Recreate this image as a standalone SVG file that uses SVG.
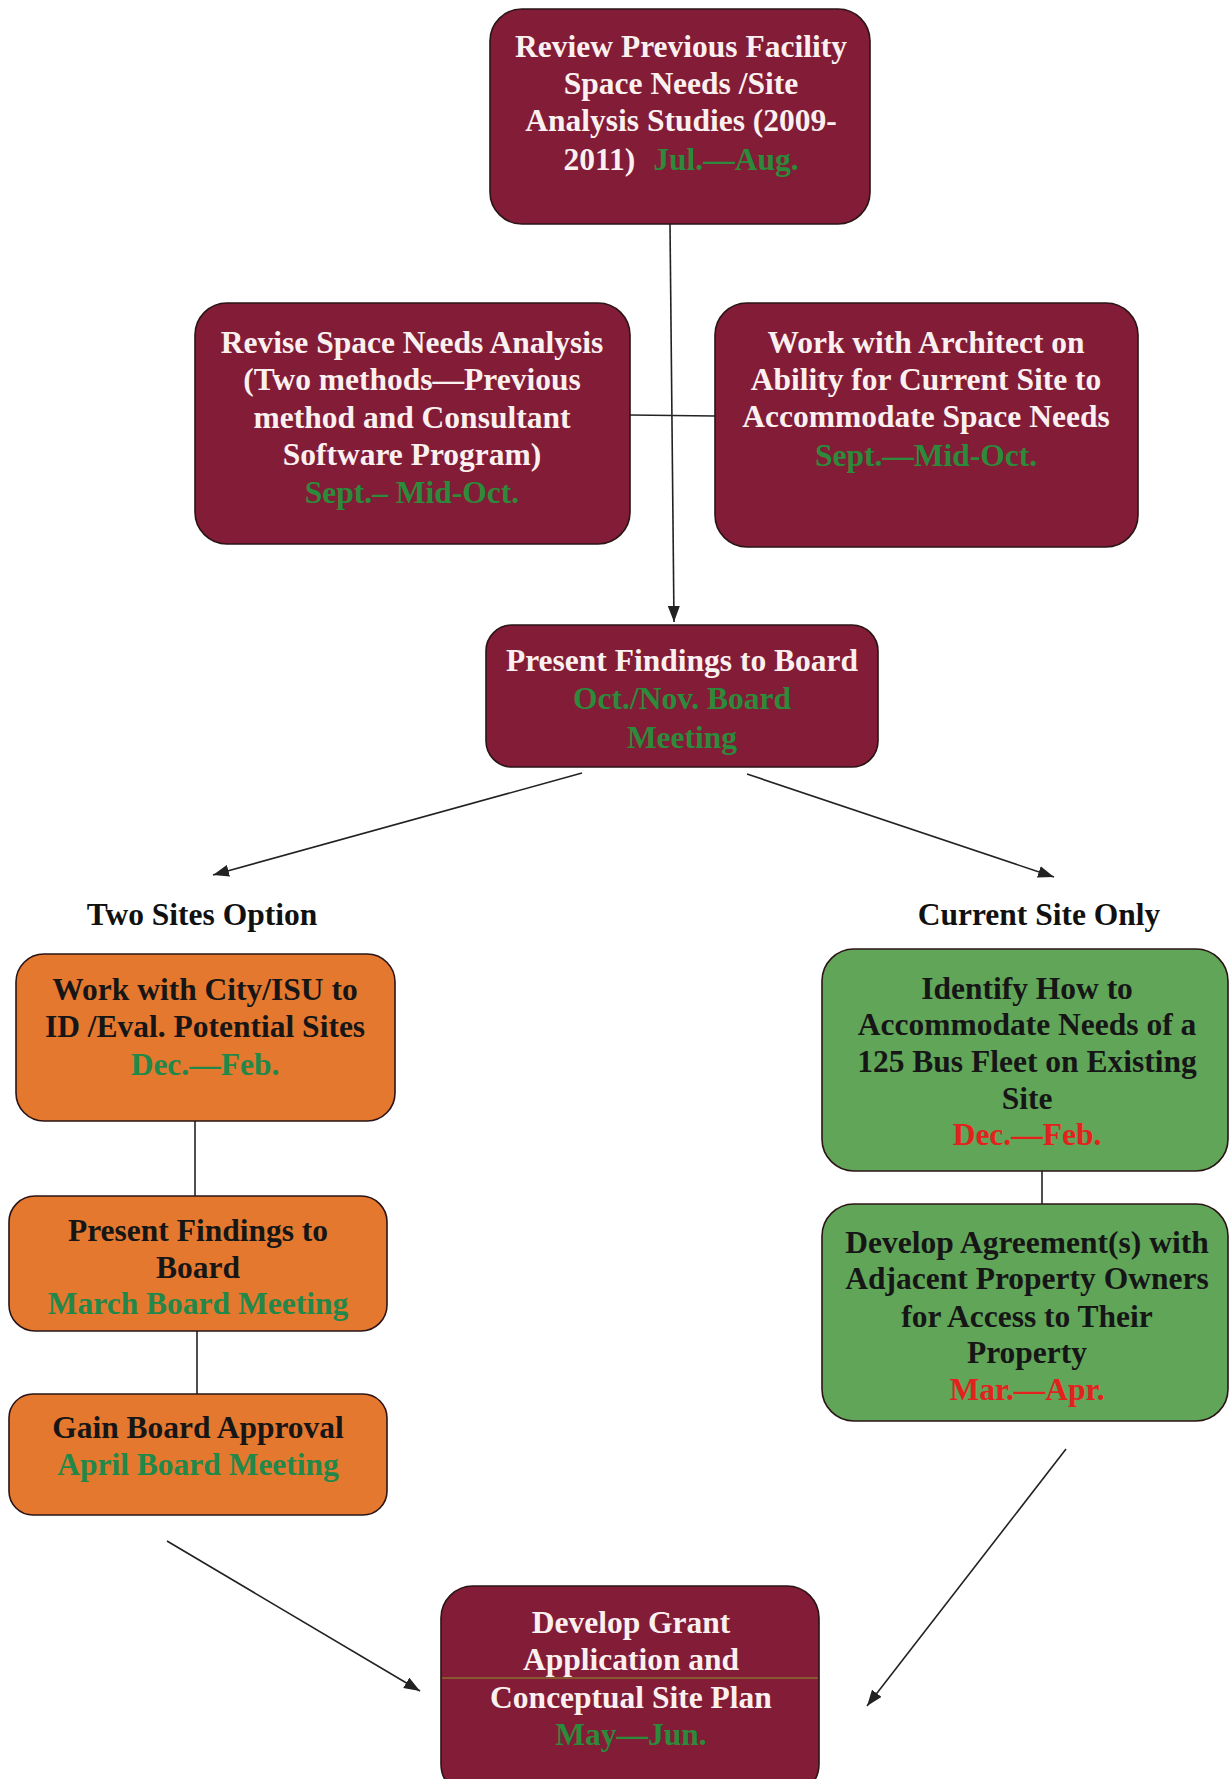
<svg xmlns="http://www.w3.org/2000/svg" width="1229" height="1779" viewBox="0 0 1229 1779">
<style>
text{font-family:"Liberation Serif","Times New Roman",serif;font-weight:bold;font-size:31.5px;text-anchor:middle}
.m{fill:#821c37;stroke:#2a1416;stroke-width:1.6}
.o{fill:#e5782f;stroke:#2a1416;stroke-width:1.6}
.g{fill:#61a559;stroke:#2a1416;stroke-width:1.6}
.wt{fill:#fbf0f0}
.bt{fill:#161616}
.gn{fill:#2c8a3a}
.gt{fill:#22884a}
.rd{fill:#e3221e}
.c{stroke:#222;stroke-width:1.6;fill:none}
.lbl{fill:#111;font-size:31.5px}
</style>
<defs>
<marker id="ah2" viewBox="0 0 16 12" refX="16" refY="6" markerWidth="16" markerHeight="12" markerUnits="userSpaceOnUse" orient="auto">
<path d="M0,0 L16,6 L0,12 z" fill="#222"/>
</marker>
</defs>
<g id="connectors">
<line class="c" x1="670" y1="224" x2="674" y2="622" marker-end="url(#ah2)"/>
<line class="c" x1="630" y1="415" x2="715" y2="416"/>
<line class="c" x1="582" y1="773" x2="213" y2="875" marker-end="url(#ah2)"/>
<line class="c" x1="747" y1="774" x2="1054" y2="877" marker-end="url(#ah2)"/>
<line class="c" x1="195" y1="1121" x2="195" y2="1196"/>
<line class="c" x1="197" y1="1331" x2="197" y2="1394"/>
<line class="c" x1="1042" y1="1171" x2="1042" y2="1204"/>
<line class="c" x1="167" y1="1541" x2="420" y2="1691" marker-end="url(#ah2)"/>
<line class="c" x1="1066" y1="1449" x2="867" y2="1706" marker-end="url(#ah2)"/>
</g>
<g id="n-review">
<rect class="m" x="490" y="9" width="380" height="215" rx="32"/>
<text class="wt" x="681" y="57">Review Previous Facility</text>
<text class="wt" x="681" y="94">Space Needs /Site</text>
<text class="wt" x="681" y="131">Analysis Studies (2009-</text>
<text class="wt" x="681" y="170">2011)<tspan class="gn" dx="18">Jul.—Aug.</tspan></text>
</g>
<g id="n-revise">
<rect class="m" x="195" y="303" width="435" height="241" rx="32"/>
<text class="wt" x="412" y="353">Revise Space Needs Analysis</text>
<text class="wt" x="412" y="390">(Two methods—Previous</text>
<text class="wt" x="412" y="428">method and Consultant</text>
<text class="wt" x="412" y="465">Software Program)</text>
<text class="gn" x="412" y="503">Sept.– Mid-Oct.</text>
</g>
<g id="n-architect">
<rect class="m" x="715" y="303" width="423" height="244" rx="32"/>
<text class="wt" x="926" y="353">Work with Architect on</text>
<text class="wt" x="926" y="390">Ability for Current Site to</text>
<text class="wt" x="926" y="427">Accommodate Space Needs</text>
<text class="gn" x="926" y="466">Sept.—Mid-Oct.</text>
</g>
<g id="n-present">
<rect class="m" x="486" y="625" width="392" height="142" rx="26"/>
<text class="wt" x="682" y="671">Present Findings to Board</text>
<text class="gn" x="682" y="709">Oct./Nov. Board</text>
<text class="gn" x="682" y="748">Meeting</text>
</g>
<g id="lbl-two">
<text class="lbl" x="202" y="925">Two Sites Option</text>
</g>
<g id="lbl-current">
<text class="lbl" x="1039" y="925">Current Site Only</text>
</g>
<g id="n-city">
<rect class="o" x="16" y="954" width="379" height="167" rx="28"/>
<text class="bt" x="205" y="1000">Work with City/ISU to</text>
<text class="bt" x="205" y="1037">ID /Eval. Potential Sites</text>
<text class="gt" x="205" y="1075">Dec.—Feb.</text>
</g>
<g id="n-present2">
<rect class="o" x="9" y="1196" width="378" height="135" rx="26"/>
<text class="bt" x="198" y="1241">Present Findings to</text>
<text class="bt" x="198" y="1278">Board</text>
<text class="gt" x="198" y="1314">March Board Meeting</text>
</g>
<g id="n-approval">
<rect class="o" x="9" y="1394" width="378" height="121" rx="24"/>
<text class="bt" x="198" y="1438">Gain Board Approval</text>
<text class="gt" x="198" y="1475">April Board Meeting</text>
</g>
<g id="n-identify">
<rect class="g" x="822" y="949" width="406" height="222" rx="32"/>
<text class="bt" x="1027" y="999">Identify How to</text>
<text class="bt" x="1027" y="1035">Accommodate Needs of a</text>
<text class="bt" x="1027" y="1072">125 Bus Fleet on Existing</text>
<text class="bt" x="1027" y="1109">Site</text>
<text class="rd" x="1027" y="1145">Dec.—Feb.</text>
</g>
<g id="n-agreement">
<rect class="g" x="822" y="1204" width="406" height="217" rx="32"/>
<text class="bt" x="1027" y="1253">Develop Agreement(s) with</text>
<text class="bt" x="1027" y="1289">Adjacent Property Owners</text>
<text class="bt" x="1027" y="1327">for Access to Their</text>
<text class="bt" x="1027" y="1363">Property</text>
<text class="rd" x="1027" y="1400">Mar.—Apr.</text>
</g>
<g id="n-grant">
<rect class="m" x="441" y="1586" width="378" height="210" rx="32"/>
<line x1="442" y1="1678" x2="818" y2="1678" stroke="#8a6a2e" stroke-width="1.5"/>
<text class="wt" x="631" y="1633">Develop Grant</text>
<text class="wt" x="631" y="1670">Application and</text>
<text class="wt" x="631" y="1708">Conceptual Site Plan</text>
<text class="gn" x="631" y="1745">May—Jun.</text>
</g>
</svg>
